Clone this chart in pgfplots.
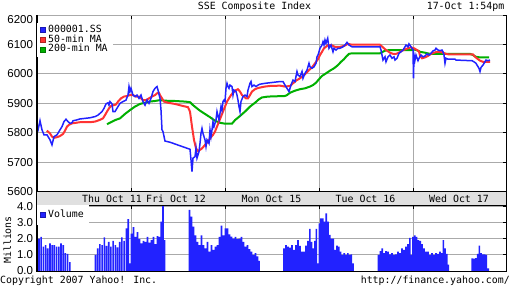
\documentclass[border=0pt]{standalone}
\usepackage{pgfplots}
\pgfplotsset{compat=1.18}
\usepackage{fontspec}
\setmainfont{DejaVu Sans Mono}
\newfontfamily\tickfont{Liberation Sans}
\definecolor{cblue}{RGB}{34,34,255}
\definecolor{cred}{RGB}{255,51,51}
\definecolor{cgreen}{RGB}{0,176,0}
\definecolor{cgrid}{RGB}{170,170,170}
\definecolor{cband}{RGB}{224,224,224}
\newcommand{\mono}{\fontsize{9.9}{11}\selectfont}
\pgfplotsset{
  legsq/.style={legend image code/.code={\filldraw[fill=#1,draw=#1!70!black,line width=0.5pt] (0pt,-2.6pt) rectangle (5.2pt,2.6pt);}},
  yahoo/.style={
    scale only axis, xmin=36.7, xmax=506.7,
    xtick={131.7,225.7,319.3,413.3}, xticklabels={},
    xtick pos=both, ytick pos=right, yticklabel pos=left,
    tick align=inside, major tick length=4pt,
    tick style={black,line width=0.8pt},
    grid=major, major grid style={cgrid,line width=0.8pt},
    axis line style={line width=0.8pt},
    yticklabel style={font=\tickfont\fontsize{11.5}{12}\selectfont,inner sep=0pt,xshift=-3.5pt},
    legend cell align=left,
    after end axis/.code={\draw[line width=2pt] (rel axis cs:0,0) -- (rel axis cs:0,1);},
  }
}
\begin{document}
\begin{tikzpicture}[x=1pt,y=1pt]
\useasboundingbox (0,0) rectangle (512,288);
\filldraw[fill=cband,draw=black,line width=0.8pt] (36.7,83) rectangle (506.7,96.3);
\begin{axis}[yahoo, at={(36.7pt,96.3pt)}, anchor=south west, width=470pt, height=176.7pt,
  ymin=5600, ymax=6200, ytick={5600,5700,...,6100}, yticklabels={5600,5700,5800,5900,6000,6100},
  extra y ticks={6200}, extra y tick labels={6200},
  extra y tick style={yticklabel style={yshift=-4.5pt}},
  legend style={at={(0,0.955)},anchor=north west,draw=none,fill=white,font=\mono,
      inner xsep=3pt,inner ysep=2pt,
      nodes={inner xsep=2.5pt,inner ysep=0.5pt,text height=6.5pt,text depth=2.4pt},
      row sep=0pt}]
\addplot[cgreen, line width=2pt, forget plot] coordinates {
(107,5829)(115,5843)(120,5849)(125,5864)(130,5877)(135,5889)(140,5898)(145,5902)(150,5906)(155,5908)(160,5911)(165,5909)(175,5908)(185,5906)(190,5904)(193,5894)(197,5883)(200,5875)(205,5864)(210,5853)(215,5841)(220,5834)(225,5831)(232,5831)(235,5843)(240,5857)(245,5872)(250,5889)(255,5902)(259,5914)(262,5920)(268,5923)(285,5925)(287,5928)(290,5936)(295,5943)(300,5948)(305,5951)(310,5957)(313,5962)(316,5970)(319,5982)(322,5993)(326,6002)(330,6011)(334,6019)(338,6030)(341,6041)(344,6050)(346,6058)(349,6068)(352,6070)(380,6070)(385,6079)(390,6081)(412,6081)(414,6083)(418,6079)(420,6075)(425,6072)(430,6068)(470,6068)(473,6064)(476,6058)(480,6056)(489,6056)};
\addplot[cred, line width=2pt, forget plot] coordinates {
(46.7,5807)(48,5804)(50,5798)(52,5787)(54,5783)(57,5785)(60,5789)(63,5796)(65,5807)(67,5821)(69,5827)(72,5832)(76,5834)(80,5836)(90,5836)(95,5838)(100,5844)(103,5849)(105,5860)(107,5872)(109,5883)(111,5891)(114,5894)(116,5896)(118,5906)(121,5917)(124,5923)(127,5925)(130,5928)(133,5928)(136,5923)(139,5923)(141,5917)(143,5911)(146,5911)(149,5917)(152,5923)(155,5928)(157,5934)(159,5936)(160,5928)(162,5917)(164,5906)(168,5902)(175,5898)(183,5891)(188,5887)(190,5872)(192,5821)(194,5776)(196,5747)(198,5738)(200,5742)(202,5747)(205,5759)(208,5770)(210,5781)(213,5793)(215,5804)(217,5821)(219,5838)(221,5855)(223,5872)(225,5889)(227,5906)(229,5917)(231,5928)(233,5936)(236,5945)(238,5948)(240,5940)(242,5928)(244,5923)(246,5917)(248,5917)(250,5928)(252,5940)(255,5948)(258,5952)(262,5955)(265,5957)(270,5959)(280,5960)(285,5957)(290,5959)(293,5968)(296,5977)(300,5985)(303,5993)(306,6002)(309,6013)(312,6022)(315,6036)(318,6050)(320,6064)(322,6075)(324,6087)(326,6092)(328,6098)(331,6098)(335,6092)(340,6092)(344,6095)(348,6102)(352,6099)(380,6099)(383,6090)(386,6081)(390,6072)(393,6068)(396,6068)(399,6072)(402,6079)(405,6083)(408,6087)(411,6090)(414,6087)(417,6081)(419,6076)(420,6062)(422,6053)(425,6056)(428,6061)(431,6068)(434,6072)(437,6075)(440,6075)(443,6072)(446,6068)(449,6066)(473,6066)(475,6058)(478,6050)(480,6045)(483,6041)(490,6041)};
\addplot[cblue, line width=1.5pt, forget plot] coordinates {
(37.7,5804)(40,5841)(42,5810)(44,5793)(47,5793)(50,5776)(52,5759)(54,5787)(57,5793)(60,5810)(62,5821)(64,5838)(66,5846)(68,5838)(70,5832)(72,5834)(73,5841)(76,5843)(80,5847)(85,5849)(90,5851)(95,5855)(98,5860)(100,5866)(102,5872)(104,5883)(106,5898)(108,5902)(109,5894)(110,5906)(112,5898)(113,5872)(115,5872)(118,5889)(120,5900)(123,5906)(126,5911)(128,5928)(129,5957)(130,5940)(131,5951)(133,5928)(135,5923)(137,5928)(139,5917)(141,5928)(143,5906)(145,5894)(147,5911)(149,5900)(151,5917)(153,5940)(155,5951)(157,5957)(158,5945)(160,5917)(161,5877)(162,5810)(163,5804)(165,5772)(170,5768)(175,5762)(180,5756)(185,5750)(190,5744)(191,5708)(192,5668)(193,5714)(195,5719)(196,5747)(197,5714)(199,5736)(200,5764)(201,5798)(202,5815)(203,5798)(205,5776)(206,5753)(207,5776)(209,5764)(210,5810)(211,5787)(212,5810)(213,5838)(214,5821)(216,5844)(217,5872)(219,5844)(220,5866)(221,5889)(222,5877)(223,5906)(224,5911)(225,5906)(226,5951)(227,5968)(228,5957)(229,5951)(230,5962)(232,5957)(233,5928)(234,5945)(236,5940)(237,5928)(238,5911)(239,5889)(240,5872)(241,5906)(243,5923)(245,5928)(247,5923)(248,5945)(250,5968)(251,5974)(252,5957)(254,5962)(256,5957)(258,5962)(260,5965)(265,5968)(270,5970)(275,5972)(280,5974)(283,5974)(285,5962)(287,5951)(289,5940)(291,5962)(293,5979)(295,5974)(297,6008)(298,5996)(300,5991)(302,6008)(303,5985)(305,6002)(307,6013)(309,6036)(310,6024)(312,6019)(314,6024)(316,6036)(317,6058)(318,6064)(319,6075)(320,6087)(322,6098)(323,6109)(324,6098)(325,6115)(326,6104)(327.7,6121)(329,6087)(331,6098)(333,6075)(334,6087)(336,6081)(338,6087)(340,6087)(343,6092)(345,6098)(347,6107)(349,6098)(352,6092)(380,6092)(381,6081)(382,6064)(383,6047)(385,6058)(386,6041)(388,6058)(390,6064)(392,6053)(394,6058)(395,6047)(397,6053)(399,6070)(401,6075)(403,6081)(405,6092)(406,6098)(408,6092)(409,6102)(411,6092)(412,6087)(413,6081)(413.5,5985)(414,6064)(415,6047)(416,6064)(418,6045)(419,6053)(421,6064)(423,6058)(425,6061)(427,6068)(429,6064)(431,6070)(433,6078)(435,6081)(436,6087)(438,6081)(440,6079)(442,6081)(443,6075)(444,6064)(445,6036)(446,6053)(448,6050)(455,6050)(456,6047)(470,6045)(472,6045)(474,6041)(476,6036)(477,6030)(479,6019)(480,6008)(481,6022)(483,6030)(485,6041)(486,6047)(488,6045)(490,6047)};
\addlegendimage{legsq=cblue}
\addlegendentry{000001.SS}
\addlegendimage{legsq=cred}
\addlegendentry{50-min MA}
\addlegendimage{legsq=cgreen}
\addlegendentry{200-min MA}
\end{axis}
\begin{axis}[yahoo, at={(36.7pt,17pt)}, anchor=south west, width=470pt, height=66pt,
  ymin=0, ymax=4.07, ytick={0,1,2,3,4},
  yticklabels={\raisebox{1.5pt}{0.0},1.0,2.0,3.0,\raisebox{-3pt}{4.0}},
  legend style={at={(0,1)},anchor=north west,draw=none,fill=white,font=\mono,
      inner xsep=3pt,inner ysep=5pt,
      nodes={inner xsep=2.5pt,inner ysep=0.5pt,text height=6.5pt,text depth=2.4pt},
      row sep=0pt}]
\addplot[ybar, bar width=1.6pt, fill=cblue, draw=none, legsq=cblue] coordinates {
(37,1.5)(39,2.0)(41.2,2.1)(43.4,1.5)(45.6,1.6)(47.8,1.4)(50,1.7)(52.2,1.6)(54.4,1.6)(56.6,1.5)(58.8,1.5)(61,1.7)(63.2,1.6)(65.4,1.1)(67.6,1.05)(69.8,0.55)
(95.5,1.0)(97.7,1.4)(99.9,1.65)(102.1,1.6)(104.3,2.08)(106.5,1.55)(108.7,1.8)(110.9,1.5)(113.1,1.85)(115.3,1.6)(117.5,1.45)(119.7,1.8)(121.9,2.08)(124.1,1.85)(126.3,2.63)(128.2,3.2)(129.8,0.47)(131.5,2.3)(133.5,2.7)(135.5,2.1)(137.5,2.4)(139.5,1.97)(141.5,1.7)(143.5,1.85)(145.5,1.8)(147.5,2.1)(149.5,1.75)(151.5,1.9)(153.5,2.1)(155.5,1.65)(157.5,2.15)(159.3,2.1)(161.2,3.05)(163,4.0)(164.6,1.9)
(189.5,3.77)(191.5,3.35)(193.5,2.74)(195.5,2.2)(197.5,1.8)(199.5,1.6)(201.5,2.2)(203.5,1.6)(205.5,1.4)(207.5,1.8)(209.5,1.2)(211.5,1.6)(213.5,1.3)(215.5,1.5)(217.5,1.6)(219.5,2.1)(221.5,2.8)(223.5,2.2)(225.5,2.63)(227.5,2.63)(229.5,2.26)(231.5,2.12)(233.5,2.0)(235.5,2.1)(237.5,1.97)(239.5,2.0)(241.5,2.1)(243.5,1.8)(245.5,1.5)(247.5,1.6)(249.5,1.35)(251.5,1.2)(253.5,1.0)(255.5,1.1)(257.5,0.9)(259,0.62)
(284,1.4)(286,1.6)(288,1.5)(290,1.44)(292,1.6)(294,1.3)(296,1.6)(298,1.9)(300,1.55)(302,1.2)(304,1.2)(306,1.56)(308,1.85)(309.8,2.6)(311.5,1.8)(313.2,1.4)(314.8,1.85)(316.3,2.6)(317.8,0.47)(319.3,2.94)(321,3.25)(322.8,3.25)(324.5,3.05)(326.2,3.56)(328,3.05)(329.8,2.22)(331.6,2.0)(333.4,2.0)(335.2,1.3)(337,1.56)(338.8,1.5)(340.6,1.2)(342.4,1.0)(344.2,1.1)(346,1.0)(347.8,1.1)(349.6,1.0)(351.4,1.03)(353,0.47)
(378.5,1.0)(380.3,1.23)(382.2,1.4)(384,1.1)(386,1.23)(388,1.2)(390,1.03)(392,1.1)(394,1.0)(396,1.03)(398,1.2)(400,1.1)(402,1.4)(404,1.3)(406,1.5)(408,1.65)(409.8,2.05)(411.4,1.0)(413,2.1)(414.8,2.2)(416.6,2.1)(418.4,1.9)(420.2,1.85)(422,1.65)(424,1.4)(426,1.2)(428,1.2)(430,1.0)(432,1.1)(434,1.0)(436,1.1)(438,1.05)(440,1.2)(441.7,1.1)(443.3,1.9)(445,1.4)(446.7,1.05)(448.3,0.4)
(472.2,0.78)(474,0.76)(476,0.8)(477.7,1.05)(479.3,1.56)(481,1.1)(482.8,1.03)(484.6,1.03)(486.4,1.0)(488.2,0.16)};
\addlegendentry{Volume}
\end{axis}
\node[font=\mono,anchor=base] at (254.5,278) {SSE Composite Index};
\node[font=\mono,anchor=base east,inner sep=0pt] at (504.5,278) {17-Oct 1:54pm};
\node[font=\mono,anchor=base west,inner sep=0pt] at (0,4) {Copyright 2007 Yahoo! Inc.};
\node[font=\mono,anchor=base east,inner sep=0pt] at (510,4) {http://finance.yahoo.com/};
\node[font=\mono,rotate=90,inner sep=0pt] at (7.5,48) {Millions};
\node[font=\mono,anchor=base] at (112,85.5) {Thu Oct 11};
\node[font=\mono,anchor=base] at (176,85.5) {Fri Oct 12};
\node[font=\mono,anchor=base] at (271.5,85.5) {Mon Oct 15};
\node[font=\mono,anchor=base] at (365.5,85.5) {Tue Oct 16};
\node[font=\mono,anchor=base] at (459,85.5) {Wed Oct 17};
\end{tikzpicture}
\end{document}
